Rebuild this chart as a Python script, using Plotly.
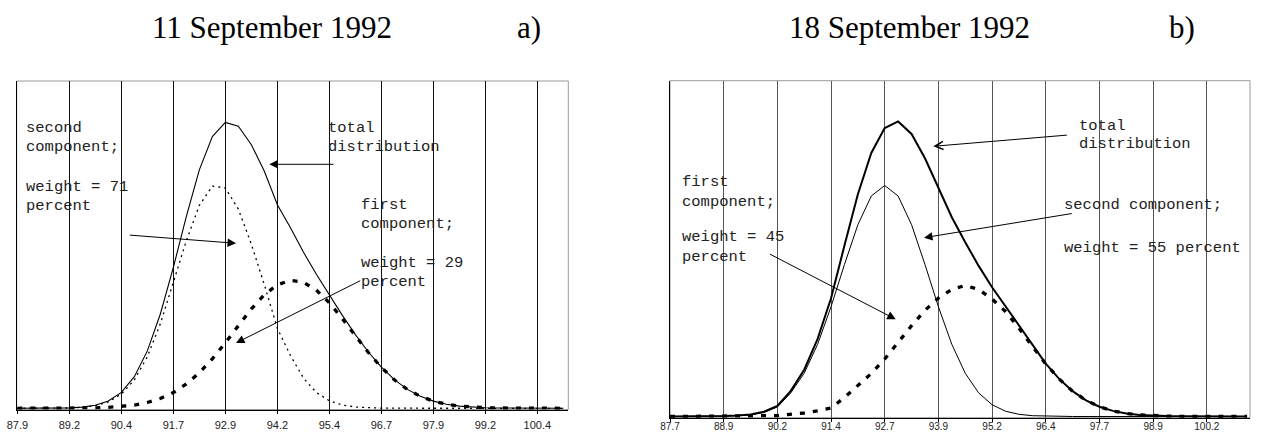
import plotly.graph_objects as go

W, H = 1261, 432

# ---------------- data ----------------
a_ticklabels = ["87.9", "89.2", "90.4", "91.7", "92.9", "94.2", "95.4", "96.7", "97.9", "99.2", "100.4"]
b_ticklabels = ["87.7", "88.9", "90.2", "91.4", "92.7", "93.9", "95.2", "96.4", "97.7", "98.9", "100.2"]

# panel a (11 September 1992) - relative density, 43 points
a_total = [0, 0, 0, 0.1, 0.4, 1.2, 3.0, 7.3, 15.9, 31.6, 57.4, 94.3, 140.9, 191.9, 238.5,
           271.7, 285.9, 282.0, 263.6, 237.1, 203.5, 180.9, 156.3, 134.0, 113.0, 92.9,
           73.7, 56.3, 41.1, 28.6, 18.9, 12.0, 7.2, 4.1, 2.2, 1.2, 0.6, 0.3, 0.1, 0.1, 0, 0, 0]
a_second = [0, 0, 0, 0.1, 0.3, 1.0, 2.6, 6.4, 14.2, 28.4, 51.6, 84.5, 125.1, 167.6, 202.9,
            222.2, 220.3, 199.2, 164.2, 123.5, 80.0, 53.0, 30.3, 15.8, 7.5, 3.3, 1.3, 0.5,
            0.2, 0.1, 0, 0, 0, 0, 0, 0, 0, 0, 0, 0, 0, 0, 0]
a_first = [0, 0, 0, 0, 0.1, 0.2, 0.4, 0.9, 1.7, 3.2, 5.8, 9.8, 15.8, 24.3, 35.6, 49.5, 65.6,
           82.8, 99.4, 113.6, 123.5, 127.9, 126.0, 118.2, 105.5, 89.6, 72.4, 55.8, 40.9,
           28.5, 18.9, 12.0, 7.2, 4.1, 2.2, 1.2, 0.6, 0.3, 0.1, 0.1, 0, 0, 0]

# panel b (18 September 1992) - relative density, 44 points
b_total = [0, 0, 0, 0.1, 0.4, 1.1, 2.1, 4.8, 10.5, 25.6, 46.8, 77.7, 118.3, 171.0, 222.3,
           263.5, 288.5, 295.1, 282.6, 258.2, 228.2, 199.3, 174.3, 150.6, 129.3, 110.3,
           90.6, 71.0, 52.9, 37.6, 25.3, 16.2, 9.8, 5.6, 3.0, 1.6, 0.8, 0.4, 0.2, 0.1,
           0, 0, 0, 0]
b_second = [0, 0, 0, 0.1, 0.3, 0.8, 1.6, 4.0, 9.5, 23.6, 43.3, 72.2, 109.8, 152.0, 191.8,
            220.5, 231.0, 220.5, 191.8, 152.0, 109.8, 72.2, 43.3, 23.6, 11.8, 5.3, 2.2,
            0.8, 0.3, 0.1, 0, 0, 0, 0, 0, 0, 0, 0, 0, 0, 0, 0, 0, 0]
b_first = [0, 0, 0, 0, 0.1, 0.3, 0.5, 0.8, 1.0, 2.0, 3.5, 5.5, 8.5, 19.0, 30.5, 43.0, 57.5,
           74.6, 90.8, 106.2, 118.4, 127.1, 131.0, 127.0, 117.5, 105.0, 88.4, 70.2, 52.6,
           37.5, 25.3, 16.2, 9.8, 5.6, 3.0, 1.6, 0.8, 0.4, 0.2, 0.1, 0, 0, 0, 0]

xa = list(range(len(a_total)))
xb = list(range(len(b_total)))
a_tickvals = [xa[i] for i in range(0, len(xa), 4)][:len(a_ticklabels)]
b_tickvals = [xb[i] for i in range(0, len(xb), 4)][:len(b_ticklabels)]


def px(x):
    return x / W


def py(y):
    return 1 - y / H


fig = go.Figure()

# panel a
fig.add_trace(go.Scatter(x=xa, y=a_total, mode="lines", line=dict(color="black", width=1.1),
                         xaxis="x", yaxis="y", name="total distribution"))
fig.add_trace(go.Scatter(x=xa, y=a_second, mode="lines",
                         line=dict(color="black", width=1.3, dash="2px,4px"),
                         xaxis="x", yaxis="y", name="second component"))
fig.add_trace(go.Scatter(x=xa, y=a_first, mode="lines",
                         line=dict(color="black", width=3.3, dash="5px,8px"),
                         xaxis="x", yaxis="y", name="first component"))
# panel b
fig.add_trace(go.Scatter(x=xb, y=b_total, mode="lines", line=dict(color="black", width=2),
                         xaxis="x2", yaxis="y2", name="total distribution"))
fig.add_trace(go.Scatter(x=xb, y=b_second, mode="lines", line=dict(color="black", width=1),
                         xaxis="x2", yaxis="y2", name="second component"))
fig.add_trace(go.Scatter(x=xb, y=b_first, mode="lines",
                         line=dict(color="black", width=3.3, dash="5px,8px"),
                         xaxis="x2", yaxis="y2", name="first component"))

xcommon = dict(showgrid=True, gridwidth=1, zeroline=False, showline=True, linecolor="black",
               linewidth=1, ticks="outside", ticklen=3, tickcolor="black", tickwidth=1,
               automargin=False, fixedrange=True, tickmode="array")
ycommon = dict(showgrid=False, zeroline=False, showline=True, linecolor="black", linewidth=1,
               showticklabels=False, ticks="", automargin=False, fixedrange=True)

fig.update_layout(
    width=W, height=H,
    margin=dict(l=0, r=0, t=0, b=0),
    paper_bgcolor="white", plot_bgcolor="rgba(0,0,0,0)",
    showlegend=False,
    xaxis=dict(domain=[px(16.7), px(568.3)], range=[-0.05, 42.38], anchor="y",
               tickvals=a_tickvals, ticktext=a_ticklabels, gridcolor="#111111",
               ticklabelstandoff=2,
               tickfont=dict(family="Liberation Sans, Arial", size=11, color="#222222"),
               **xcommon),
    yaxis=dict(domain=[py(409.5), py(81)], range=[-1.2, 327.3], anchor="x", **ycommon),
    xaxis2=dict(domain=[px(670), px(1250)], range=[0, 43.22], anchor="y2",
                tickvals=b_tickvals, ticktext=b_ticklabels, gridcolor="#555555",
                ticklabelstandoff=-4,
                tickfont=dict(family="Liberation Sans, Arial", size=10, color="#222222"),
                **xcommon),
    yaxis2=dict(domain=[py(417.7), py(80.7)], range=[-1.2, 335.8], anchor="x2", **ycommon),
)

shapes = []
# gray frames (top / right border)
for (x0, y0, x1, y1) in [(16.7, 81, 568.3, 409.5), (670, 80.7, 1250, 417.7)]:
    shapes.append(dict(type="rect", xref="paper", yref="paper", x0=px(x0), x1=px(x1),
                       y0=py(y1), y1=py(y0), line=dict(color="#9a9a9a", width=1),
                       fillcolor="rgba(0,0,0,0)", layer="below"))
# white text boxes hiding the grid lines
for (x0, y0, x1, y1) in [(22, 180, 131, 235), (292, 163, 340, 180), (355, 254, 498, 293),
                         (740, 192, 845, 243), (1075, 113, 1215, 137), (1060, 190, 1245, 227)]:
    shapes.append(dict(type="rect", xref="paper", yref="paper", x0=px(x0), x1=px(x1),
                       y0=py(y1), y1=py(y0), line=dict(width=0), fillcolor="white",
                       layer="between"))
fig.update_layout(shapes=shapes)

ann = []
# titles
for (txt, cx, cy) in [("11 September 1992", 272, 27), ("a)", 528.5, 27),
                      ("18 September 1992", 909, 27), ("b)", 1181.5, 27)]:
    ann.append(dict(text=txt, x=px(cx), y=py(cy), xref="paper", yref="paper",
                    xanchor="center", yanchor="middle", showarrow=False,
                    font=dict(family="Liberation Serif, Times New Roman", size=31, color="black")))

labels = [
    ("second", 25, 128.3), ("component;", 25, 146.7), ("weight = 71", 25, 187.3), ("percent", 25, 206),
    ("total", 326.7, 128.3), ("distribution", 326.7, 146.7),
    ("first", 360, 205), ("component;", 360, 224), ("weight = 29", 360, 262.7), ("percent", 360, 281.7),
    ("total", 1078, 126), ("distribution", 1078, 144.3),
    ("second component;", 1063.3, 205), ("weight = 55 percent", 1063.3, 247.7),
    ("first", 680.7, 181.7), ("component;", 680.7, 201.7), ("weight = 45", 680.7, 237.3), ("percent", 680.7, 257.3),
]
for (txt, lx, ly) in labels:
    ann.append(dict(text=txt, x=px(lx), y=py(ly), xref="paper", yref="paper",
                    xanchor="left", yanchor="middle", showarrow=False, borderpad=0,
                    font=dict(family="Liberation Mono, Courier New", size=15.5, color="#222222")))

# arrows: (head x, head y, tail x, tail y, style)
arrows = [
    (236, 243.3, 128.3, 235, 2),
    (269.3, 164.3, 335, 164.3, 2),
    (236, 343, 361.7, 280, 2),
    (933.3, 146.3, 1068.3, 135, 5),
    (924, 237.7, 1073.3, 213.3, 2),
    (895.7, 319.3, 768.3, 253.3, 2),
]
for (hx, hy, tx, ty, st) in arrows:
    ann.append(dict(text="", x=px(hx), y=py(hy), xref="paper", yref="paper",
                    ax=tx - hx, ay=ty - hy, axref="pixel", ayref="pixel",
                    showarrow=True, arrowhead=st, arrowsize=1.7 if st == 2 else 1.6,
                    arrowwidth=1, arrowcolor="black", standoff=0))
fig.update_layout(annotations=ann)

fig.write_html("out.html", config={"displayModeBar": False, "staticPlot": True},
               post_script="document.body.style.margin='0';document.body.style.overflow='hidden';")
